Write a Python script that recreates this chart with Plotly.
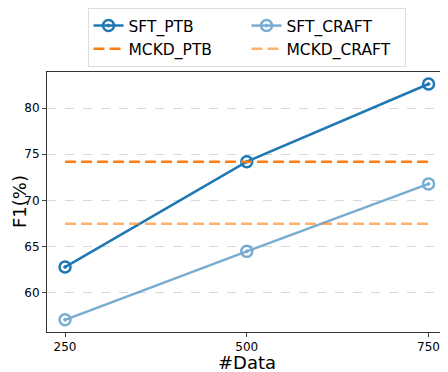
import plotly.graph_objects as go

data_sizes = [250, 500, 750]
sft_ptb = [62.8, 74.2, 82.6]
sft_craft = [57.1, 64.5, 71.8]
mckd_ptb = [74.2, 74.2, 74.2]
mckd_craft = [67.5, 67.5, 67.5]

blue = '#1f77b4'
orange = '#ff7f0e'

fig = go.Figure()

# solid SFT lines with ringed markers
for name, ys, alpha in [('SFT_PTB', sft_ptb, 1.0), ('SFT_CRAFT', sft_craft, 0.6)]:
    fig.add_trace(go.Scatter(
        x=data_sizes, y=ys, name=name, mode='lines+markers', opacity=alpha,
        line=dict(color=blue, width=2.5),
        marker=dict(symbol='circle-open-dot', size=11, color=blue, line=dict(width=2.5, color=blue)),
    ))

# dashed MCKD baselines
for name, ys, alpha in [('MCKD_PTB', mckd_ptb, 1.0), ('MCKD_CRAFT', mckd_craft, 0.6)]:
    fig.add_trace(go.Scatter(
        x=data_sizes, y=ys, name=name, mode='lines', opacity=alpha,
        line=dict(color=orange, width=2.5, dash='11px,5px'),
    ))

# page body has an 8px margin, so the figure is 8px smaller than the window
fig.update_layout(
    width=440, height=364,
    margin=dict(l=39, r=2, t=64, b=40),
    paper_bgcolor='white', plot_bgcolor='white',
    font=dict(family='DejaVu Sans', size=12, color='black'),
    showlegend=True,
    legend=dict(
        orientation='h', x=0.5, y=1.0, xanchor='center', yanchor='top',
        xref='paper', yref='container',
        font=dict(size=15.5), entrywidth=113, tracegroupgap=0,
        bordercolor='#dddddd', borderwidth=1, bgcolor='white',
    ),
    xaxis=dict(
        range=[225.2, 774], tickvals=data_sizes, ticks='outside', ticklen=4,
        showgrid=False, zeroline=False, showline=True, mirror=True,
        linecolor='#333333', linewidth=1, automargin=False,
    ),
    yaxis=dict(
        range=[55.78, 83.9], tickvals=[60, 65, 70, 75, 80], ticks='outside', ticklen=4,
        showgrid=True, gridcolor='#d9d9d9', griddash='dash', gridwidth=1,
        zeroline=False, showline=True, mirror=True,
        linecolor='#333333', linewidth=1, automargin=False,
    ),
)

# axis titles as annotations so they sit where the reference puts them
fig.add_annotation(text='#Data', xref='paper', yref='paper', x=0.5, y=0,
                   xanchor='center', yanchor='top', yshift=-18,
                   showarrow=False, font=dict(size=18))
fig.add_annotation(text='F1(%)', xref='paper', yref='paper', x=0, y=0.5,
                   xanchor='center', yanchor='middle', xshift=-28, textangle=-90,
                   showarrow=False, font=dict(size=18))

fig.write_html("out.html")
